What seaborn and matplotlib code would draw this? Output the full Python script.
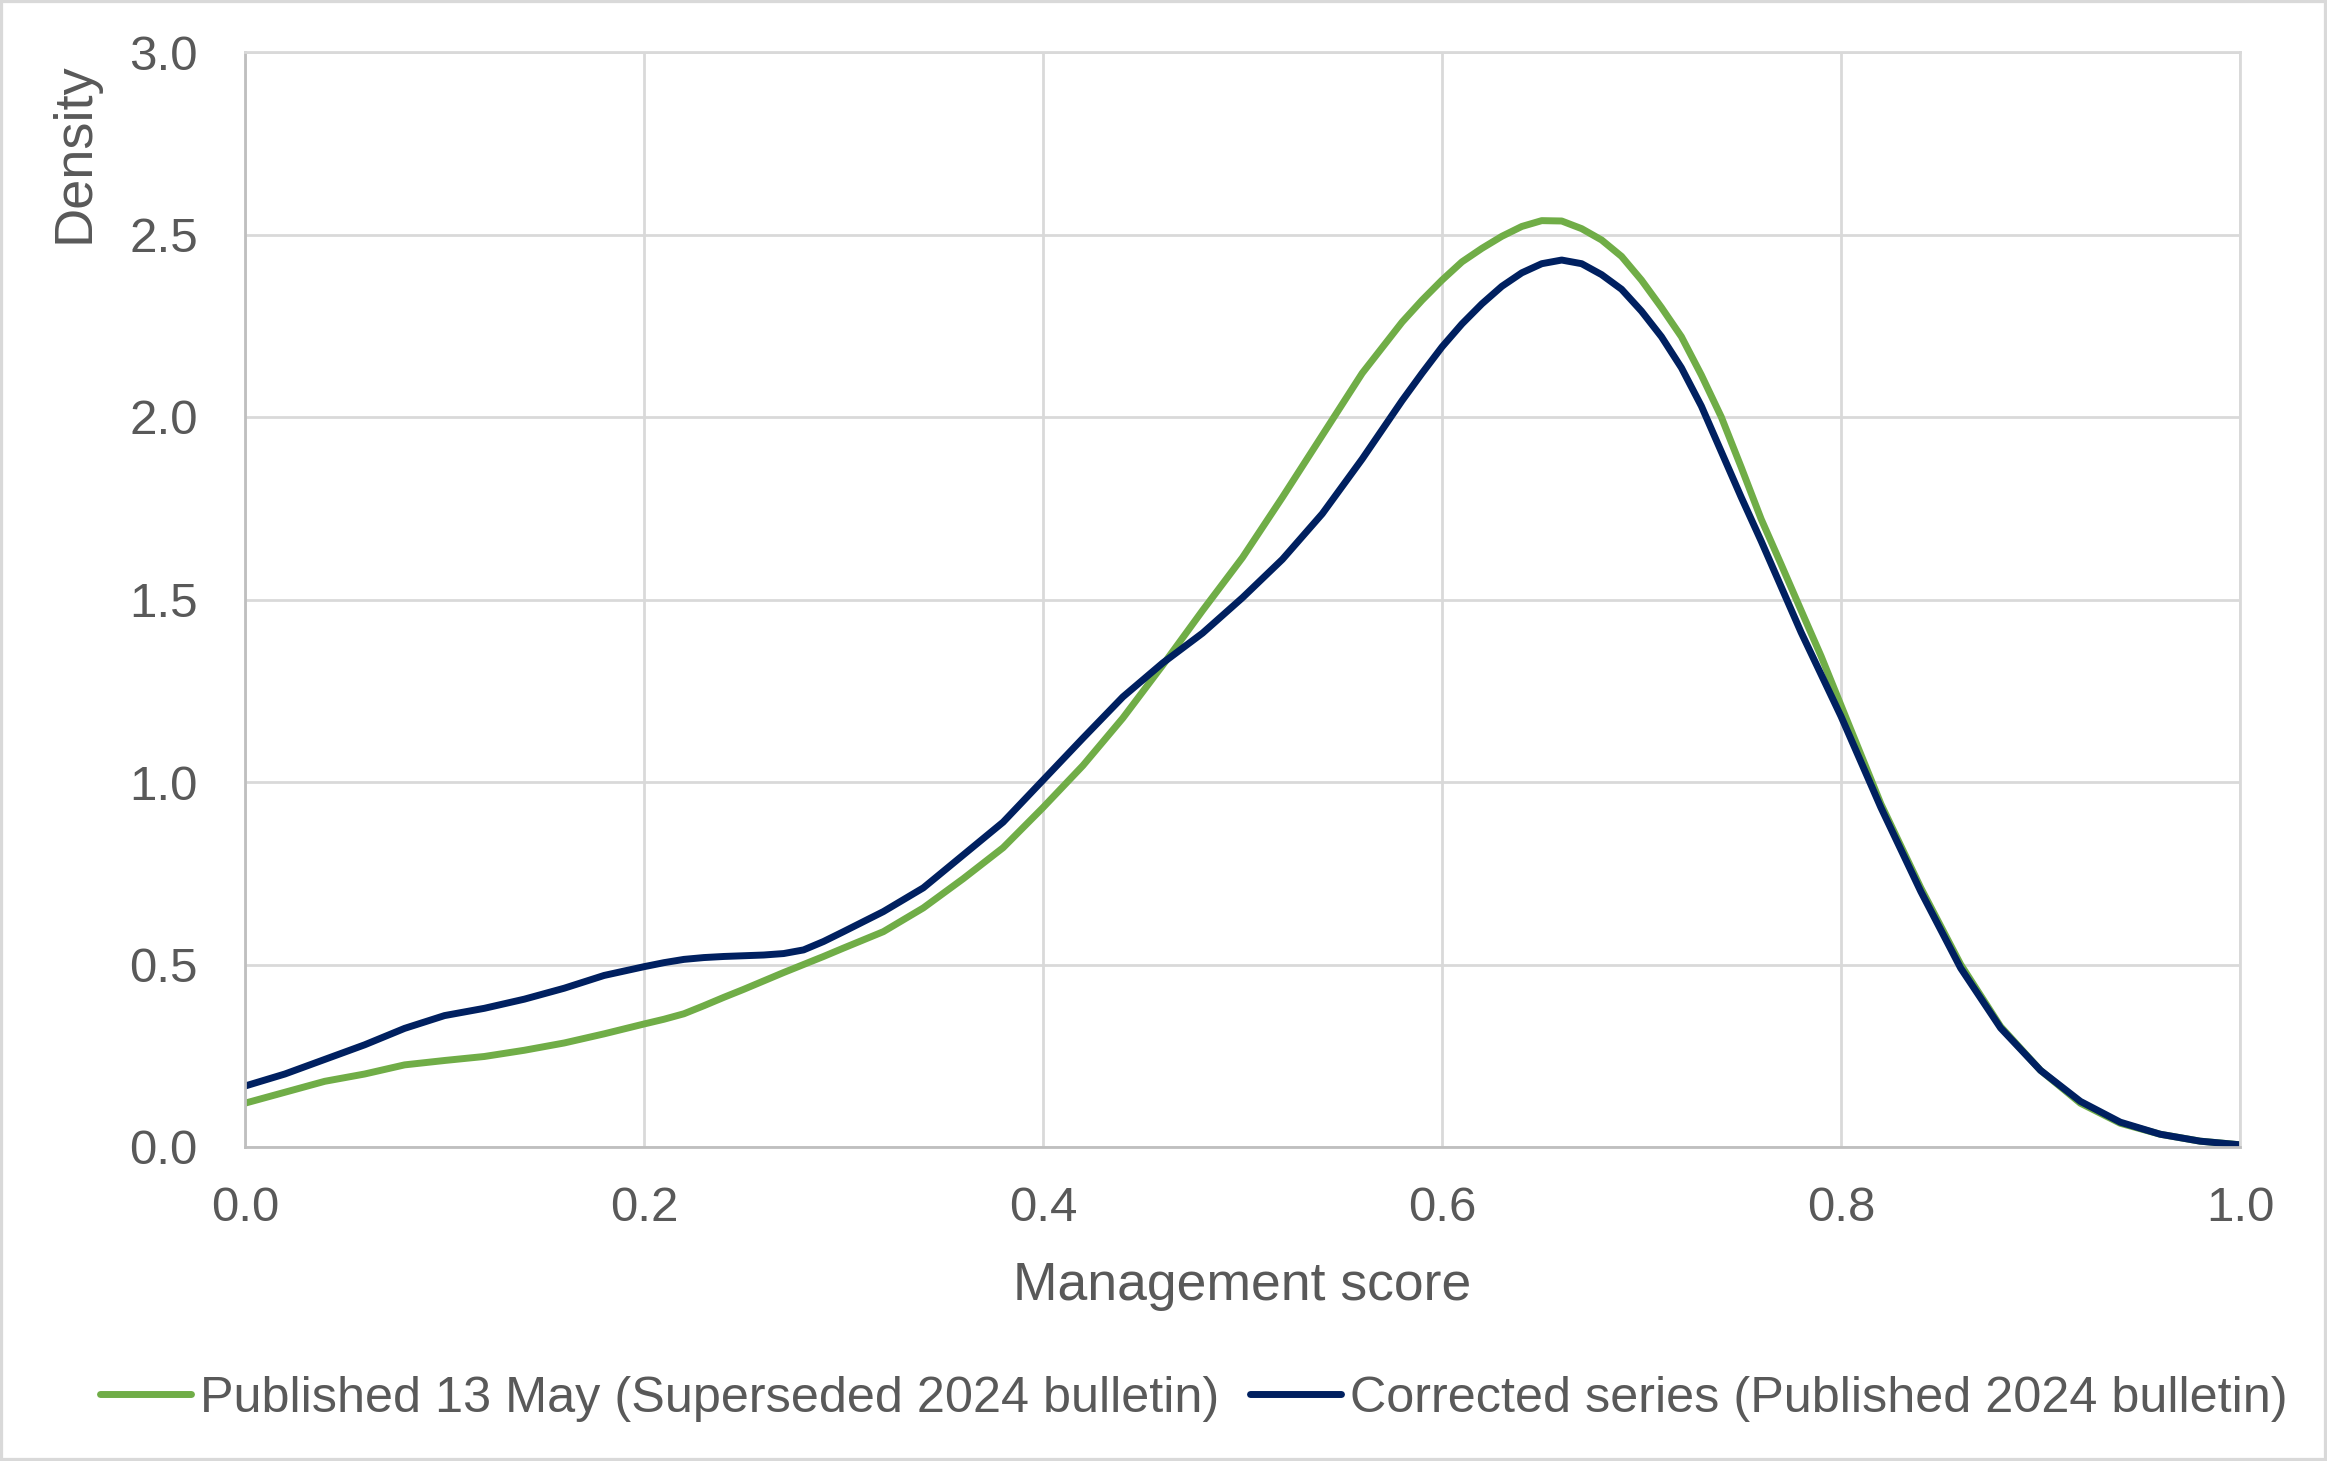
import matplotlib
matplotlib.use("Agg")
import matplotlib.pyplot as plt
import numpy as np
import pandas as pd
import seaborn as sns
from matplotlib.ticker import FormatStrFormatter, FixedLocator
from matplotlib.patches import Rectangle
from matplotlib.lines import Line2D

# ---------------- data ----------------
score = [0.00, 0.02, 0.04, 0.06, 0.08, 0.10, 0.12, 0.14, 0.16, 0.18, 0.20,
         0.21, 0.22, 0.23, 0.24, 0.25, 0.26, 0.27, 0.28, 0.29, 0.30,
         0.32, 0.34, 0.36, 0.38, 0.40, 0.42, 0.44, 0.46, 0.48, 0.50,
         0.52, 0.54, 0.56, 0.58,
         0.59, 0.60, 0.61, 0.62, 0.63, 0.64, 0.65, 0.66, 0.67, 0.68, 0.69,
         0.70, 0.71, 0.72, 0.73, 0.74, 0.75, 0.76, 0.77, 0.78, 0.79, 0.80,
         0.82, 0.84, 0.86, 0.88, 0.90, 0.92, 0.94, 0.96, 0.98, 1.00]

published = [0.120, 0.150, 0.180, 0.200, 0.225, 0.237, 0.248, 0.265, 0.285, 0.310, 0.337,
             0.350, 0.365, 0.387, 0.410, 0.432, 0.455, 0.478, 0.500, 0.522, 0.545,
             0.590, 0.655, 0.735, 0.820, 0.930, 1.045, 1.175, 1.320, 1.470, 1.615,
             1.780, 1.950, 2.120, 2.260,
             2.320, 2.375, 2.425, 2.462, 2.495, 2.522, 2.538, 2.537, 2.516, 2.485, 2.440,
             2.375, 2.300, 2.220, 2.115, 2.000, 1.862, 1.720, 1.596, 1.470, 1.345, 1.210,
             0.940, 0.710, 0.500, 0.330, 0.210, 0.120, 0.065, 0.035, 0.016, 0.006]

corrected = [0.167, 0.200, 0.240, 0.280, 0.325, 0.360, 0.380, 0.405, 0.435, 0.470, 0.494,
             0.505, 0.514, 0.519, 0.522, 0.524, 0.526, 0.530, 0.540, 0.563, 0.590,
             0.645, 0.710, 0.800, 0.890, 1.005, 1.120, 1.233, 1.326, 1.408, 1.505,
             1.610, 1.735, 1.885, 2.045,
             2.120, 2.192, 2.255, 2.310, 2.358, 2.395, 2.420, 2.430, 2.420, 2.390, 2.350,
             2.290, 2.220, 2.135, 2.030, 1.905, 1.780, 1.660, 1.535, 1.410, 1.295, 1.180,
             0.930, 0.700, 0.490, 0.326, 0.210, 0.125, 0.068, 0.035, 0.016, 0.006]

series_names = ["Published 13 May (Superseded 2024 bulletin)",
                "Corrected series (Published 2024 bulletin)"]
series_colors = ["#70AD47", "#002060"]

x_ticks = [0.0, 0.2, 0.4, 0.6, 0.8, 1.0]
y_ticks = [0.0, 0.5, 1.0, 1.5, 2.0, 2.5, 3.0]

x_label = "Management score"
y_label = "Density"

# ---------------- style ----------------
sns.set_theme(style="white")
plt.rcParams["font.family"] = ["Liberation Sans", "DejaVu Sans"]
TEXT = "#595959"
GRID = "#D9D9D9"
SPINE = "#BFBFBF"
LW = 5.0

W, H = 2327, 1461
fig = plt.figure(figsize=(W / 100, H / 100), dpi=100)
fig.patch.set_facecolor("white")

left_px, right_px, top_px, bottom_px = 245, 2240, 52, 1147
ax = fig.add_axes([left_px / W, 1 - bottom_px / H,
                   (right_px - left_px) / W, (bottom_px - top_px) / H])

df = pd.DataFrame({
    "score": score + score,
    "density": published + corrected,
    "series": [series_names[0]] * len(score) + [series_names[1]] * len(score),
})

sns.lineplot(data=df, x="score", y="density", hue="series",
             hue_order=series_names, palette=series_colors,
             estimator=None, sort=True, linewidth=LW, legend=False, ax=ax)
for ln in ax.lines:
    ln.set_linewidth(LW)
    ln.set_solid_capstyle("round")
    ln.set_solid_joinstyle("round")

ax.set_xlim(0, 1.0)
ax.set_ylim(0, 3.0)
ax.xaxis.set_major_locator(FixedLocator(x_ticks))
ax.yaxis.set_major_locator(FixedLocator(y_ticks))
ax.xaxis.set_major_formatter(FormatStrFormatter("%.1f"))
ax.yaxis.set_major_formatter(FormatStrFormatter("%.1f"))

ax.grid(True, color=GRID, linewidth=2.0)
ax.set_axisbelow(True)
for side in ["top", "right"]:
    ax.spines[side].set_color(GRID)
    ax.spines[side].set_linewidth(2.0)
for side in ["left", "bottom"]:
    ax.spines[side].set_color(SPINE)
    ax.spines[side].set_linewidth(2.0)

ax.tick_params(axis="both", length=0, labelsize=35.5, labelcolor=TEXT)
ax.tick_params(axis="x", pad=28)
ax.tick_params(axis="y", pad=34)

ax.set_xlabel(x_label, fontsize=38.5, color=TEXT)
ax.xaxis.set_label_coords(0.5, -0.104)
ax.set_ylabel(y_label, fontsize=39, color=TEXT)
ax.yaxis.set_label_coords(-0.073, 0.908)

handles = [Line2D([0], [0], color=c, linewidth=LW, solid_capstyle="round")
           for c in series_colors]
fig.legend(handles, series_names, loc="center",
           bbox_to_anchor=(1194 / W, 1 - 1399 / H), ncol=2, frameon=False,
           fontsize=36.3, labelcolor=TEXT, handlelength=1.8,
           handletextpad=0.18, columnspacing=0.62, borderaxespad=0)

fig.patches.append(Rectangle((0, 0), 1, 1, transform=fig.transFigure,
                             fill=False, edgecolor=GRID, linewidth=4.5,
                             zorder=10))

fig.savefig("out.png", dpi=100, facecolor="white")
